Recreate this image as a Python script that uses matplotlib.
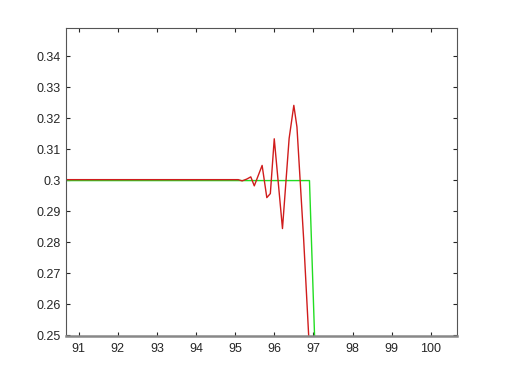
import matplotlib
matplotlib.use("Agg")
import matplotlib.pyplot as plt

plt.rcParams['font.family'] = ['Liberation Sans', 'DejaVu Sans']

# Red series (oscillating response)
red_x = [90.0, 95.0, 95.08, 95.18, 95.30, 95.40, 95.49, 95.69, 95.81, 95.90,
         96.00, 96.21, 96.38, 96.50, 96.58, 96.75, 96.88, 97.0]
red_y = [0.3002, 0.3002, 0.3002, 0.2998, 0.3004, 0.3011, 0.2982, 0.3048, 0.2944, 0.2957,
         0.3134, 0.2844, 0.3135, 0.3242, 0.3172, 0.2812, 0.2497, 0.2210]

# Green series (step)
green_x = [90.0, 96.90, 97.03, 97.2]
green_y = [0.2999, 0.2999, 0.2497, 0.1840]

x_ticks = [91, 92, 93, 94, 95, 96, 97, 98, 99, 100]
y_ticks = [0.25, 0.26, 0.27, 0.28, 0.29, 0.30, 0.31, 0.32, 0.33, 0.34]
y_labels = ['0.25', '0.26', '0.27', '0.28', '0.29', '0.3', '0.31', '0.32', '0.33', '0.34']

fig = plt.figure(figsize=(5.05, 3.78), dpi=100)
ax = fig.add_axes([0.13, 0.112, 0.775, 0.814])

ax.plot(green_x, green_y, color='#22dd22', lw=1.0)
ax.plot(red_x, red_y, color='#d01c1c', lw=1.0)

ax.set_xlim(90.67, 100.67)
ax.set_ylim(0.2498, 0.3492)
ax.set_xticks(x_ticks)
ax.set_xticklabels([str(t) for t in x_ticks])
ax.set_yticks(y_ticks)
ax.set_yticklabels(y_labels)

ax.tick_params(direction='in', length=3, width=0.8, colors='#262626',
               labelsize=9, top=True, right=True)
ax.tick_params(axis='x', pad=5.5)
ax.tick_params(axis='y', pad=3.5)
for s in ax.spines.values():
    s.set_color('#555555')
    s.set_linewidth(0.8)
ax.spines['bottom'].set_color('#888888')
ax.spines['bottom'].set_linewidth(1.8)

fig.savefig('out.png', dpi=100)
